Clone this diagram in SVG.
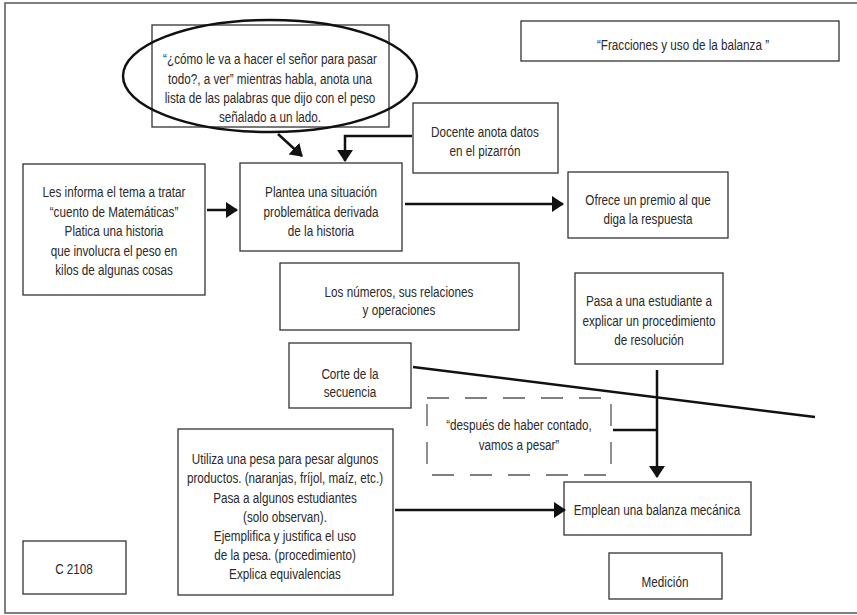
<svg xmlns="http://www.w3.org/2000/svg" width="857" height="615" viewBox="0 0 857 615">
<style>
.box{fill:#fff;stroke:#333;stroke-width:1.3}
.dash{fill:#fff;stroke:#555;stroke-width:1.3;stroke-dasharray:22 16}
.t{font-family:"Liberation Sans",Arial,sans-serif;font-size:15px;fill:#2a2a2a;text-anchor:middle}
.c{fill:none;stroke:#111;stroke-width:2.5}
</style>
<defs>
<marker id="ah" viewBox="0 0 12 16" refX="11" refY="8" markerWidth="12" markerHeight="16" markerUnits="userSpaceOnUse" orient="auto">
<path d="M0,0 L12,8 L0,16 Z" fill="#111"/>
</marker>
</defs>
<rect width="857" height="615" fill="#fff"/>
<path d="M857,3 H5 V613 H857" fill="none" stroke="#555" stroke-width="1.5"/>

<g id="n-cuento">
<rect class="box" x="152" y="25" width="237" height="102"/>
<ellipse cx="270" cy="76" rx="147" ry="56" fill="none" stroke="#111" stroke-width="2.5"/>
<g transform="matrix(0.78 0 0 1 59.4 2)">
<text class="t" x="270" y="62">“¿cómo le va a hacer el señor para pasar</text>
<text class="t" x="270" y="82">todo?, a ver” mientras habla, anota una</text>
<text class="t" x="270" y="101">lista de las palabras que dijo con el peso</text>
<text class="t" x="270" y="120">señalado a un lado.</text>
</g>
</g>

<g id="n-fracciones">
<rect class="box" x="521" y="21" width="318" height="40"/>
<g transform="matrix(0.78 0 0 1 150.26 2)">
<text class="t" x="683" y="48">“Fracciones y uso de la balanza ”</text>
</g>
</g>

<g id="n-docente">
<rect class="box" x="413" y="103" width="145" height="70"/>
<g transform="matrix(0.78 0 0 1 106.7 2)">
<text class="t" x="485" y="135">Docente anota datos</text>
<text class="t" x="485" y="154">en el pizarrón</text>
</g>
</g>

<g id="n-plantea">
<rect class="box" x="240" y="163" width="162" height="88"/>
<g transform="matrix(0.78 0 0 1 70.62 2)">
<text class="t" x="321" y="195">Plantea una situación</text>
<text class="t" x="321" y="215">problemática derivada</text>
<text class="t" x="321" y="234">de la historia</text>
</g>
</g>

<g id="n-informa">
<rect class="box" x="23" y="164" width="182" height="131"/>
<g transform="matrix(0.78 0 0 1 25.08 2)">
<text class="t" x="114" y="195">Les informa el tema a tratar</text>
<text class="t" x="114" y="215">“cuento de Matemáticas”</text>
<text class="t" x="114" y="234">Platica una historia</text>
<text class="t" x="114" y="254">que involucra el peso en</text>
<text class="t" x="114" y="273">kilos de algunas cosas</text>
</g>
</g>

<g id="n-ofrece">
<rect class="box" x="568" y="172" width="160" height="66"/>
<g transform="matrix(0.78 0 0 1 142.56 2)">
<text class="t" x="648" y="203">Ofrece un premio al que</text>
<text class="t" x="648" y="222">diga la respuesta</text>
</g>
</g>

<g id="n-numeros">
<rect class="box" x="280" y="263" width="239" height="67"/>
<g transform="matrix(0.78 0 0 1 87.78 2)">
<text class="t" x="399" y="295">Los números, sus relaciones</text>
<text class="t" x="399" y="313">y operaciones</text>
</g>
</g>

<g id="n-pasa">
<rect class="box" x="575" y="273" width="148" height="91"/>
<g transform="matrix(0.78 0 0 1 142.78 2)">
<text class="t" x="649" y="304">Pasa a una estudiante a</text>
<text class="t" x="649" y="324">explicar un procedimiento</text>
<text class="t" x="649" y="343">de resolución</text>
</g>
</g>

<g id="n-corte">
<rect class="box" x="289" y="343" width="122" height="65"/>
<g transform="matrix(0.78 0 0 1 77 2)">
<text class="t" x="350" y="377">Corte de la</text>
<text class="t" x="350" y="395">secuencia</text>
</g>
</g>

<g id="n-despues">
<rect class="dash" x="427" y="398" width="184" height="77"/>
<g transform="matrix(0.78 0 0 1 114.18 2)">
<text class="t" x="519" y="428">“después de haber contado,</text>
<text class="t" x="519" y="448">vamos a pesar”</text>
</g>
</g>

<g id="n-utiliza">
<rect class="box" x="178" y="429" width="215" height="166"/>
<g transform="matrix(0.78 0 0 1 62.7 2)">
<text class="t" x="285" y="462">Utiliza una pesa para pesar algunos</text>
<text class="t" x="285" y="481">productos. (naranjas, fríjol, maíz, etc.)</text>
<text class="t" x="285" y="501">Pasa a algunos estudiantes</text>
<text class="t" x="285" y="520">(solo observan).</text>
<text class="t" x="285" y="539">Ejemplifica y justifica el uso</text>
<text class="t" x="285" y="558">de la pesa. (procedimiento)</text>
<text class="t" x="285" y="577">Explica equivalencias</text>
</g>
</g>

<g id="n-emplean">
<rect class="box" x="564" y="482" width="187" height="53"/>
<g transform="matrix(0.78 0 0 1 144.54 2)">
<text class="t" x="657" y="513">Emplean una balanza mecánica</text>
</g>
</g>

<g id="n-medicion">
<rect class="box" x="609" y="553" width="113" height="46"/>
<g transform="matrix(0.78 0 0 1 146.3 2)">
<text class="t" x="665" y="585">Medición</text>
</g>
</g>

<g id="n-c2108">
<rect class="box" x="23" y="541" width="103" height="53"/>
<g transform="matrix(0.78 0 0 1 16.28 2)">
<text class="t" x="74" y="572">C 2108</text>
</g>
</g>

<g id="connectors">
<path class="c" d="M278,134 L302,156" marker-end="url(#ah)"/>
<path class="c" d="M412,136 H345 V161" marker-end="url(#ah)"/>
<path class="c" d="M207,210 H237" marker-end="url(#ah)"/>
<path class="c" d="M405,204 H563" marker-end="url(#ah)"/>
<path class="c" d="M657,370 V477" marker-end="url(#ah)"/>
<path class="c" d="M613,430 H657"/>
<path class="c" d="M413,367 L815,417"/>
<path class="c" d="M395,510 H565" marker-end="url(#ah)"/>
</g>
</svg>
